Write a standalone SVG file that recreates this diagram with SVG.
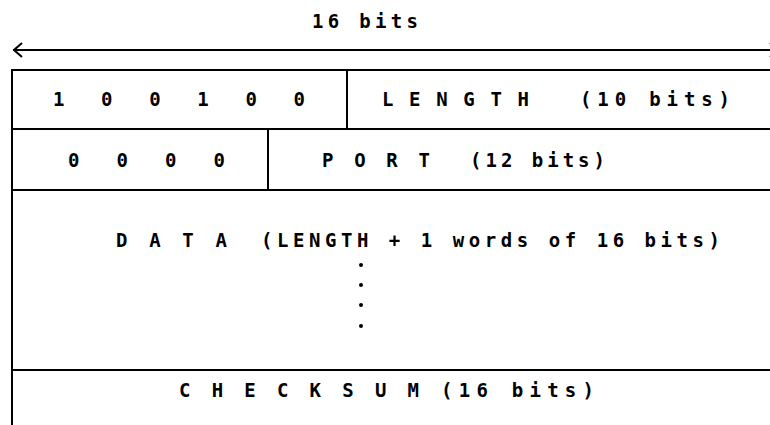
<svg xmlns="http://www.w3.org/2000/svg" width="770" height="425" viewBox="0 0 770 425">
  <style>
    .rule { stroke: #000; stroke-width: 2; fill: none; stroke-linecap: square; }
    .lbl { font-family: "DejaVu Sans Mono", "Liberation Mono", monospace; font-size: 19px; font-weight: bold; fill: #000; }
  </style>
  <defs>
    <marker id="chevron" viewBox="0 0 10 16" refX="9" refY="8" markerWidth="10" markerHeight="16" markerUnits="userSpaceOnUse" orient="auto-start-reverse">
      <path d="M1,1 L9,8 L1,15" fill="none" stroke="#000" stroke-width="2"/>
    </marker>
  </defs>
  <rect width="770" height="425" fill="#fff"/>

  <!-- width dimension: 16 bits -->
  <g id="connectors">
    <line class="rule" x1="14" y1="50" x2="778" y2="50" marker-start="url(#chevron)" marker-end="url(#chevron)"/>
  </g>
  <g id="width-label">
    <text class="lbl" x="312" y="28" textLength="106" lengthAdjust="spacing">16 bits</text>
  </g>

  <!-- frame: left edge and row separators -->
  <g id="frame">
    <line class="rule" x1="12" y1="70" x2="12" y2="426"/>
    <line class="rule" x1="12" y1="70" x2="771" y2="70"/>
    <line class="rule" x1="12" y1="129" x2="771" y2="129"/>
    <line class="rule" x1="12" y1="190" x2="771" y2="190"/>
    <line class="rule" x1="12" y1="370" x2="771" y2="370"/>
  </g>

  <!-- word 1: header bits + length -->
  <g id="header-bits">
    <text class="lbl" x="53" y="106" textLength="252" lengthAdjust="spacing">1  0  0  1  0  0</text>
  </g>
  <line class="rule" x1="347" y1="70" x2="347" y2="129"/>
  <g id="length-field">
    <text class="lbl" x="382" y="106" textLength="147" lengthAdjust="spacing">L E N G T H</text>
    <text class="lbl" x="580" y="106" textLength="150" lengthAdjust="spacing">(10 bits)</text>
  </g>

  <!-- word 2: zero bits + port -->
  <g id="zero-bits">
    <text class="lbl" x="68" y="167" textLength="157" lengthAdjust="spacing">0  0  0  0</text>
  </g>
  <line class="rule" x1="268" y1="129" x2="268" y2="190"/>
  <g id="port-field">
    <text class="lbl" x="322" y="167" textLength="108" lengthAdjust="spacing">P O R T</text>
    <text class="lbl" x="470" y="167" textLength="135" lengthAdjust="spacing">(12 bits)</text>
  </g>

  <!-- data words -->
  <g id="data-field">
    <text class="lbl" x="116" y="247" textLength="111" lengthAdjust="spacing">D A T A</text>
    <text class="lbl" x="261" y="247" textLength="459" lengthAdjust="spacing">(LENGTH + 1 words of 16 bits)</text>
    <circle cx="361" cy="265" r="2" fill="#000"/>
    <circle cx="361" cy="285" r="2" fill="#000"/>
    <circle cx="361" cy="305" r="2" fill="#000"/>
    <circle cx="361" cy="326" r="2" fill="#000"/>
  </g>

  <!-- checksum word -->
  <g id="checksum-field">
    <text class="lbl" x="179" y="397" textLength="240" lengthAdjust="spacing">C H E C K S U M</text>
    <text class="lbl" x="441" y="397" textLength="153" lengthAdjust="spacing">(16 bits)</text>
  </g>
</svg>
